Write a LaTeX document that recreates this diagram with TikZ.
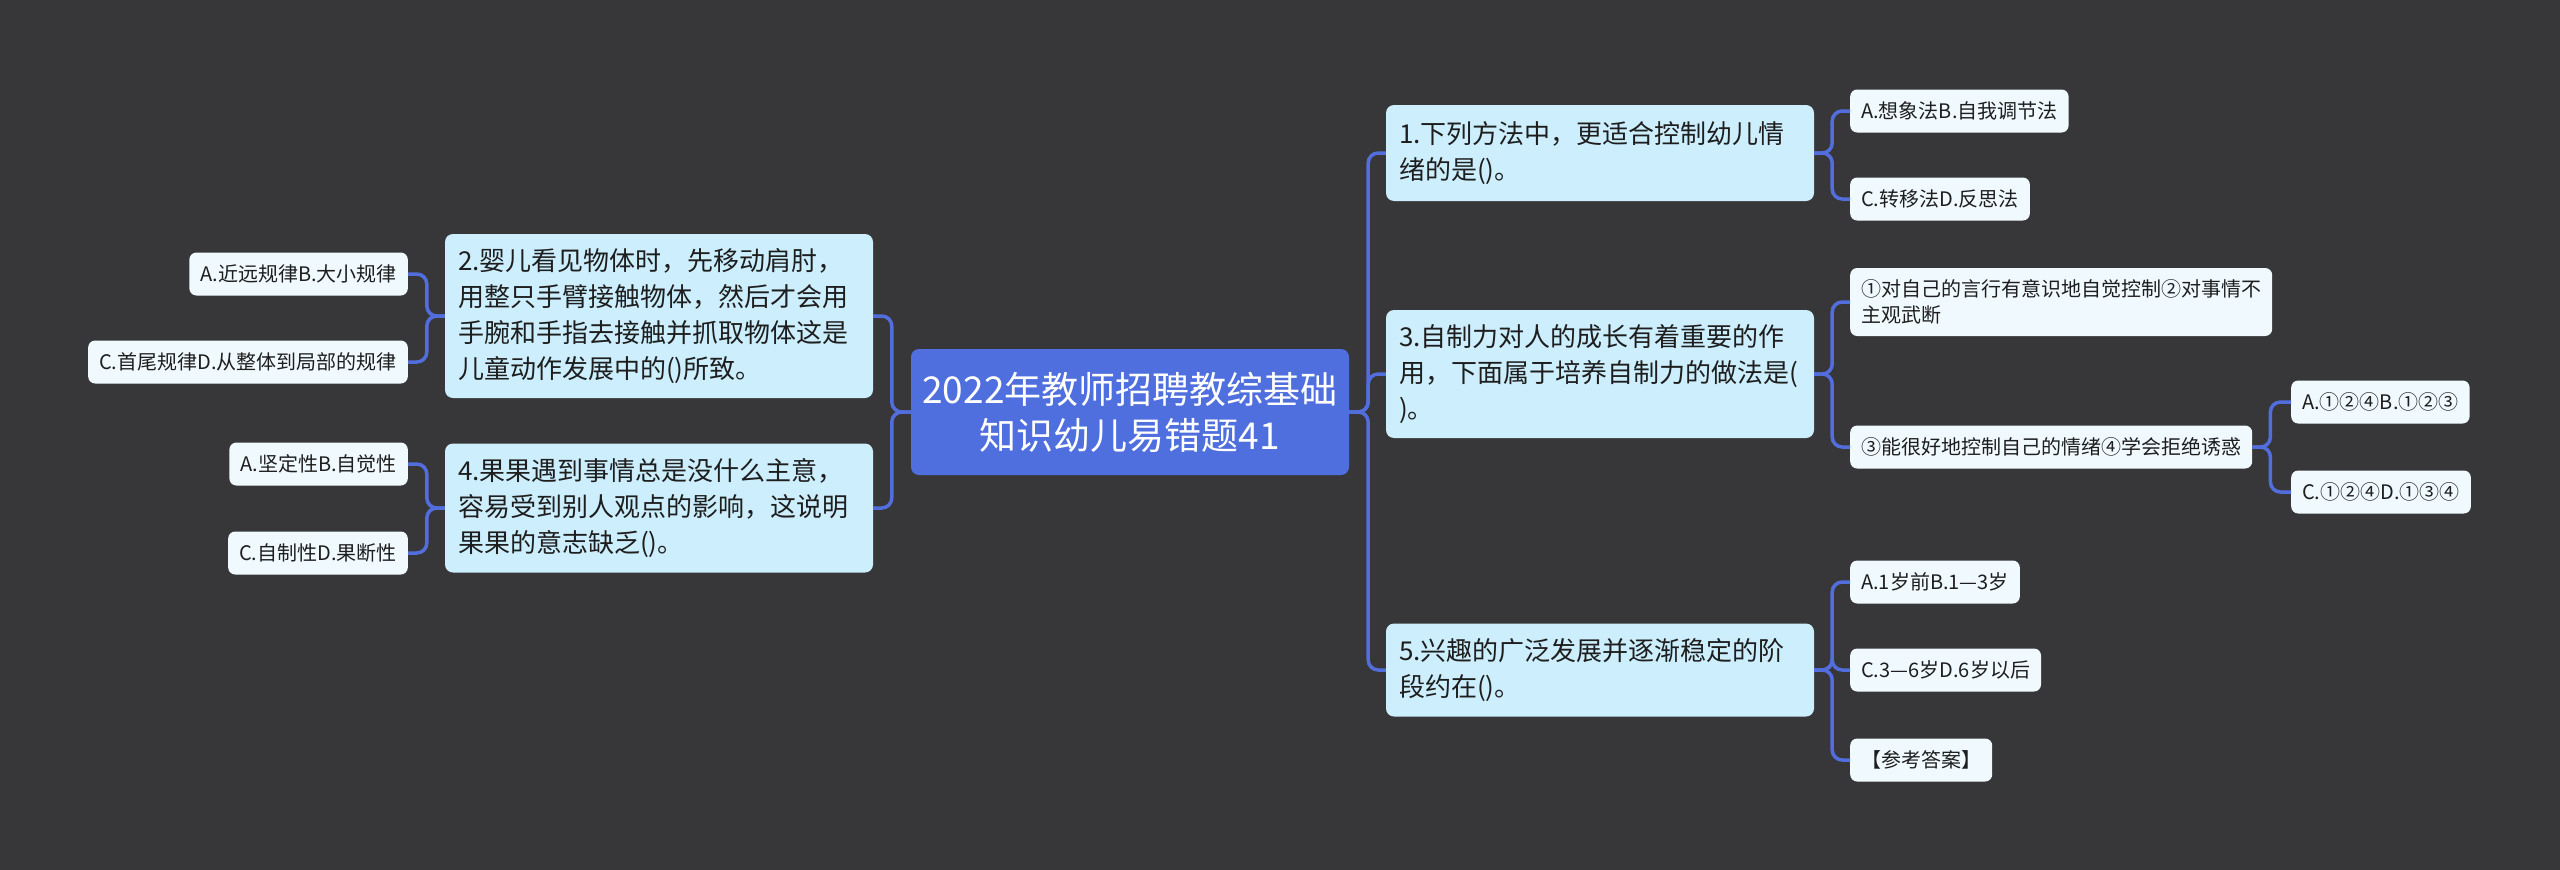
\documentclass[tikz,border=0pt]{standalone}
\usepackage{fontspec}
\setmainfont{Noto Sans CJK SC}
\definecolor{bg}{RGB}{55,54,56}
\definecolor{rootc}{RGB}{80,111,222}
\definecolor{lvone}{RGB}{204,238,253}
\definecolor{leafc}{RGB}{240,250,254}
\definecolor{connc}{RGB}{82,110,220}
\definecolor{txt}{RGB}{30,30,30}
\tikzset{
  rootbox/.style={fill=rootc, rounded corners=8pt, text=white, font=\fontsize{37pt}{46pt}\selectfont, align=center, minimum width=438pt, minimum height=126pt, inner sep=0pt},
  topicbox/.style={fill=lvone, rounded corners=8pt, text=txt, font=\fontsize{26pt}{36pt}\selectfont, align=left, text width=402pt, inner xsep=13pt, inner ysep=0pt},
  leafbox/.style={fill=leafc, rounded corners=7pt, text=txt, font=\fontsize{20pt}{26pt}\selectfont, align=left, inner xsep=11pt, inner ysep=0pt, minimum height=43pt},
  link/.style={draw=connc, line width=3.5pt, rounded corners=10pt},
}
\begin{document}
\begin{tikzpicture}[x=1pt,y=-1pt]
\useasboundingbox (0,0) rectangle (2560,870);
\fill[bg] (0,0) rectangle (2560,870);

% root
\node[rootbox] (root) at (1130,412) {2022年教师招聘教综基础\\知识幼儿易错题41};

% left topics
\node[topicbox, minimum height=164pt] (n2) at (659,316) {2.婴儿看见物体时，先移动肩肘，\\用整只手臂接触物体，然后才会用\\手腕和手指去接触并抓取物体这是\\儿童动作发展中的()所致。};
\node[topicbox, minimum height=129pt] (n4) at (659,508) {4.果果遇到事情总是没什么主意，\\容易受到别人观点的影响，这说明\\果果的意志缺乏()。};

% right topics
\node[topicbox, minimum height=96pt] (n1) at (1600,153) {1.下列方法中，更适合控制幼儿情\\绪的是()。};
\node[topicbox, minimum height=128pt] (n3) at (1600,374) {3.自制力对人的成长有着重要的作\\用，下面属于培养自制力的做法是(\\)。};
\node[topicbox, minimum height=93pt] (n5) at (1600,670) {5.兴趣的广泛发展并逐渐稳定的阶\\段约在()。};

% left leaves
\node[leafbox, anchor=east] (a2) at (408,274) {A.近远规律B.大小规律};
\node[leafbox, anchor=east] (c2) at (408,362) {C.首尾规律D.从整体到局部的规律};
\node[leafbox, anchor=east] (a4) at (408,464) {A.坚定性B.自觉性};
\node[leafbox, anchor=east] (c4) at (408,553) {C.自制性D.果断性};

% right leaves
\node[leafbox, anchor=west] (a1) at (1850,111) {A.想象法B.自我调节法};
\node[leafbox, anchor=west] (c1) at (1850,199) {C.转移法D.反思法};
\node[leafbox, anchor=west, minimum height=68pt] (q3a) at (1850,302) {①对自己的言行有意识地自觉控制②对事情不\\主观武断};
\node[leafbox, anchor=west] (q3b) at (1850,447) {③能很好地控制自己的情绪④学会拒绝诱惑};
\node[leafbox, anchor=west] (g1) at (2291,402) {A.①②④B.①②③};
\node[leafbox, anchor=west] (g2) at (2291,492) {C.①②④D.①③④};
\node[leafbox, anchor=west] (a5) at (1850,582) {A.1岁前B.1—3岁};
\node[leafbox, anchor=west] (c5) at (1850,670) {C.3—6岁D.6岁以后};
\node[leafbox, anchor=west] (ans) at (1850,760) {【参考答案】};

% connectors root
\foreach \t in {n1,n3,n5}
  \draw[link] (root.east) -- ([xshift=19pt]root.east) |- (\t.west);
\foreach \t in {n2,n4}
  \draw[link] (root.west) -- ([xshift=-19pt]root.west) |- (\t.east);

% left children
\foreach \t in {a2,c2}
  \draw[link] (n2.west) -- ([xshift=-18pt]n2.west) |- (\t.east);
\foreach \t in {a4,c4}
  \draw[link] (n4.west) -- ([xshift=-18pt]n4.west) |- (\t.east);

% right children
\foreach \t in {a1,c1}
  \draw[link] (n1.east) -- ([xshift=18pt]n1.east) |- (\t.west);
\foreach \t in {q3a,q3b}
  \draw[link] (n3.east) -- ([xshift=18pt]n3.east) |- (\t.west);
\foreach \t in {g1,g2}
  \draw[link] (q3b.east) -- ([xshift=18pt]q3b.east) |- (\t.west);
\foreach \t in {a5,c5,ans}
  \draw[link] (n5.east) -- ([xshift=18pt]n5.east) |- (\t.west);
\end{tikzpicture}
\end{document}
